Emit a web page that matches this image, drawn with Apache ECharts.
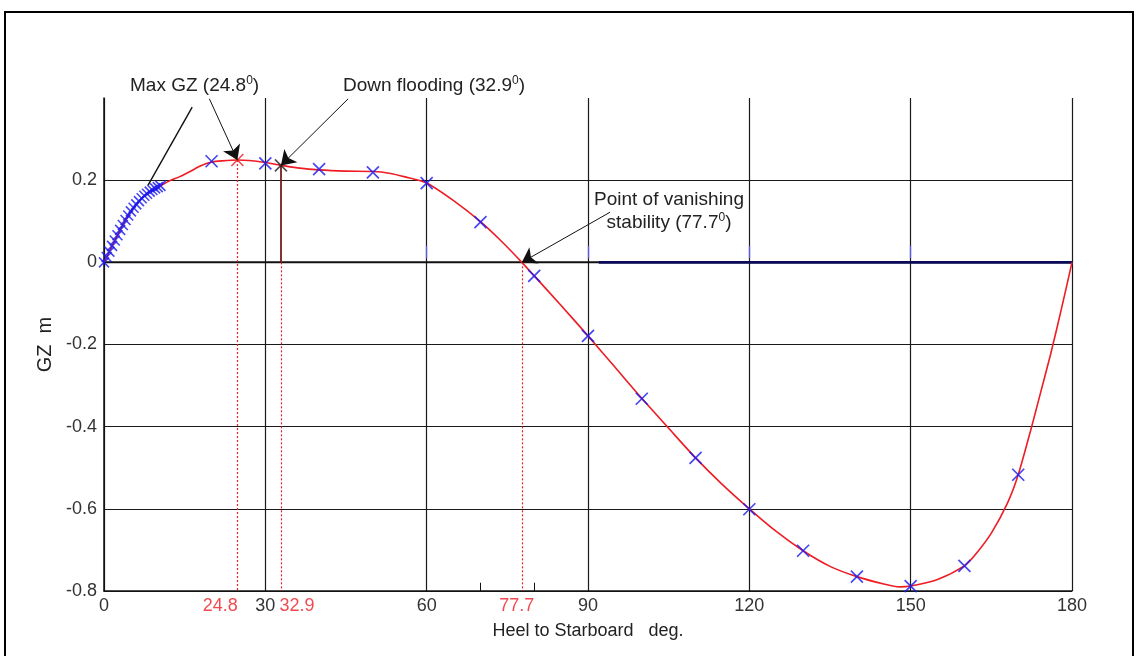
<!DOCTYPE html>
<html lang="en">
<head>
    <meta charset="utf-8">
    <title>GZ curve</title>
    <script src="https://cdn.jsdelivr.net/npm/echarts/dist/echarts.min.js"></script>
    <style>
        html, body { margin: 0; padding: 0; background: #fff; }
        .echarts_gz { width: 1139px; height: 656px; }
    </style>
</head>
<body>
    <div class="echarts_gz"></div>

<script type="text/javascript">
    // righting lever curve (heel deg / GZ m)
    let curveHeel = [0, 2, 4, 6, 8, 10.4, 12, 14, 16, 18, 20, 22, 24.8, 27, 30, 32.9, 36, 40, 45, 50, 53, 56, 60, 65, 70, 74, 77.7, 80, 85, 90, 95, 100, 105, 110, 115, 120, 125, 130, 135, 140, 145, 148, 150, 155, 160, 162, 165, 168, 170, 172.5, 174, 176, 178, 180];
    let curveGz = [0, 0.053, 0.103, 0.141, 0.167, 0.185, 0.197, 0.208, 0.221, 0.235, 0.244, 0.247, 0.249, 0.248, 0.243, 0.236, 0.230, 0.225, 0.222, 0.221, 0.217, 0.208, 0.193, 0.150, 0.099, 0.050, 0, -0.033, -0.105, -0.179, -0.255, -0.331, -0.404, -0.476, -0.541, -0.600, -0.655, -0.702, -0.740, -0.765, -0.783, -0.790, -0.788, -0.772, -0.739, -0.712, -0.659, -0.586, -0.517, -0.400, -0.325, -0.225, -0.115, 0];

    // computed points every 10 deg
    let pointHeel = [20, 30, 40, 50, 60, 70, 80, 90, 100, 110, 120, 130, 140, 150, 160, 170];
    let pointGz = [0.246, 0.241, 0.227, 0.219, 0.193, 0.098, -0.033, -0.179, -0.332, -0.476, -0.601, -0.702, -0.765, -0.788, -0.739, -0.517];

    // dense points at small angles
    let smallHeel = [0, 0.5, 1, 1.5, 2, 2.5, 3, 3.5, 4, 4.5, 5, 5.5, 6, 6.5, 7, 7.5, 8, 8.5, 9, 9.5, 10, 10.5];
    let smallGz = [0, 0.013, 0.026, 0.040, 0.053, 0.066, 0.079, 0.091, 0.103, 0.114, 0.124, 0.133, 0.141, 0.149, 0.156, 0.162, 0.167, 0.172, 0.176, 0.180, 0.183, 0.186];

    let maxGzHeel = 24.8;
    let maxGzValue = 0.249;
    let floodHeel = 32.9;
    let floodGz = 0.236;
    let vanishHeel = 77.7;
    let redTicks = [24.8, 32.9, 77.7];
    let minorTicks = [70, 80];
    let blueTicks = [60, 90, 120, 150];
    let navyFrom = 92;

    let fontFamily = '"Liberation Sans", Arial, Helvetica, sans-serif';
    let crossPath = 'path://M0,0L10,10M10,0L0,10';
    let redColor = '#ee1c24';
    let blueColor = '#1818f0';

    function zip(xs, ys){
        return xs.map((x, i) => [x, ys[i]]);
    };

    let richText = {
        a: { fontSize: 19, fill: '#222', fontFamily: fontFamily, lineHeight: 23.5 },
        s: { fontSize: 12, fill: '#222', fontFamily: fontFamily, lineHeight: 14, verticalAlign: 'top' }
    };

    // one empty series per guide style, the lines come from markLine
    function guideSeries(name, lines, lineStyle, z){
        return {
            name: name,
            type: 'line',
            data: [],
            markLine: {
                silent: true,
                z: z,
                symbol: ['none', 'none'],
                label: { show: false },
                lineStyle: lineStyle,
                data: lines
            }
        };
    };

    let redGuides = [
        [{coord: [maxGzHeel, maxGzValue]}, {coord: [maxGzHeel, -0.8]}],
        [{coord: [floodHeel, 0]}, {coord: [floodHeel, -0.8]}],
        [{coord: [vanishHeel, 0]}, {coord: [vanishHeel, -0.8]}]
    ];
    let floodGuide = [[{coord: [floodHeel, floodGz]}, {coord: [floodHeel, 0]}]];
    let minorGuides = minorTicks.map((t) => [{coord: [t, -0.8]}, {coord: [t, -0.78]}]);
    let blueGuides = blueTicks.map((t) => [{coord: [t, 0.01]}, {coord: [t, 0.04]}]);

    let Chart = echarts.init(document.getElementsByClassName('echarts_gz')[0]);

    let option = {
        animation: false,
        textStyle: { fontFamily: fontFamily },
        grid: { left: 104, right: 67, top: 98, bottom: 65, containLabel: false, outerBoundsMode: 'none' },
        xAxis: {
            type: 'value',
            min: 0,
            max: 180,
            interval: 30,
            name: 'Heel to Starboard   deg.',
            nameLocation: 'middle',
            nameGap: 31,
            nameTextStyle: { fontSize: 18, color: '#222', fontFamily: fontFamily },
            axisLine: { show: true, onZero: false, lineStyle: { color: '#111', width: 1.5 } },
            axisTick: { show: false },
            axisLabel: { fontSize: 18, color: '#333', margin: 6, fontFamily: fontFamily },
            splitLine: { show: true, lineStyle: { color: '#1a1a1a', width: 1.2 } }
        },
        yAxis: {
            type: 'value',
            min: -0.8,
            max: 0.4,
            interval: 0.2,
            name: 'GZ  m',
            nameLocation: 'middle',
            nameGap: 41,
            nameTextStyle: { fontSize: 20, color: '#222', fontFamily: fontFamily },
            axisLine: { show: true, onZero: false, lineStyle: { color: '#111', width: 1.5 } },
            axisTick: { show: false },
            axisLabel: {
                fontSize: 18, color: '#333', margin: 7, fontFamily: fontFamily,
                formatter: function(v){
                    if(v > 0.3) return '';
                    if(Math.abs(v) < 1e-9) return '0';
                    return v.toFixed(1);
                }
            },
            splitLine: { show: true, showMaxLine: false, lineStyle: { color: '#1a1a1a', width: 1.2 } }
        },
        graphic: [
            { type: 'rect', shape: { x: 5, y: 12, width: 1128, height: 700 }, style: { fill: 'none', stroke: '#000', lineWidth: 2 }, silent: true, z: -10 },
            { type: 'text', x: 130, y: 86, style: { text: '{a|Max GZ (' + maxGzHeel + '}{s|0}{a|)}', rich: richText, verticalAlign: 'middle' } },
            { type: 'text', x: 343, y: 86, style: { text: '{a|Down flooding (' + floodHeel + '}{s|0}{a|)}', rich: richText, verticalAlign: 'middle' } },
            { type: 'text', x: 669, y: 211.5, style: { text: '{a|Point of vanishing}\n{a|stability (' + vanishHeel + '}{s|0}{a|)}', rich: richText, align: 'center', verticalAlign: 'middle' } }
        ],
        series: [
            {
                name: 'zero',
                type: 'line',
                data: [[0, 0], [180, 0]],
                symbol: 'none',
                silent: true,
                lineStyle: { color: '#111', width: 2 },
                z: 1
            },
            {
                name: 'zero right',
                type: 'line',
                data: [[navyFrom, 0], [180, 0]],
                symbol: 'none',
                silent: true,
                lineStyle: { color: '#0b0b5a', width: 2.6 },
                z: 1
            },
            guideSeries('red guides', redGuides, { color: redColor, type: [2, 2], width: 1.2 }, 2),
            guideSeries('flood guide', floodGuide, { color: '#7a1c1c', type: 'solid', width: 1.8 }, 2),
            guideSeries('minor ticks', minorGuides, { color: '#111', type: 'solid', width: 1 }, 2),
            guideSeries('blue ticks', blueGuides, { color: '#5a5ae8', type: 'solid', width: 1.3 }, 2),
            {
                name: 'GZ',
                type: 'line',
                data: zip(curveHeel, curveGz),
                symbol: 'none',
                smooth: 0.25,
                lineStyle: { color: redColor, width: 1.6 },
                z: 3
            },
            {
                name: 'points',
                type: 'scatter',
                data: zip(pointHeel, pointGz),
                symbol: crossPath,
                symbolSize: 12,
                itemStyle: { color: 'rgba(0,0,0,0)', borderColor: blueColor, borderWidth: 1.7 },
                z: 4
            },
            {
                name: 'small angle points',
                type: 'scatter',
                data: zip(smallHeel, smallGz),
                symbol: crossPath,
                symbolSize: 10,
                itemStyle: { color: 'rgba(0,0,0,0)', borderColor: blueColor, borderWidth: 1.6 },
                z: 4
            },
            {
                name: 'key points',
                type: 'scatter',
                data: [
                    { value: [maxGzHeel, maxGzValue], itemStyle: { borderColor: redColor } },
                    { value: [floodHeel, floodGz], itemStyle: { borderColor: '#222' } }
                ],
                symbol: crossPath,
                symbolSize: 12,
                itemStyle: { color: 'rgba(0,0,0,0)', borderWidth: 1.6 },
                z: 4
            },
            {
                name: 'red ticks',
                type: 'scatter',
                data: [
                    { value: [redTicks[0], -0.8], label: { offset: [-17, 0] } },
                    { value: [redTicks[1], -0.8], label: { offset: [16, 0] } },
                    { value: [redTicks[2], -0.8], label: { offset: [-5, 0] } }
                ],
                symbolSize: 1,
                clip: false,
                itemStyle: { color: 'rgba(0,0,0,0)' },
                label: {
                    show: true, position: 'bottom', distance: 6,
                    color: redColor, fontSize: 18, fontFamily: fontFamily,
                    formatter: function(p){ return String(p.value[0]); }
                },
                z: 5
            },
            {
                name: 'arrows',
                type: 'line',
                data: [],
                markLine: {
                    silent: true,
                    z: 6,
                    symbol: ['none', 'arrow'],
                    symbolSize: 14,
                    label: { show: false },
                    lineStyle: { color: '#111', width: 1, type: 'solid' },
                    data: [
                        [{coord: [19.6, 0.398]}, {coord: [maxGzHeel, maxGzValue]}],
                        [{coord: [45.4, 0.398]}, {coord: [floodHeel, floodGz]}],
                        [{coord: [94.1, 0.122]}, {coord: [vanishHeel, 0]}],
                        [{coord: [16.4, 0.378], symbol: 'none', lineStyle: {width: 1.4}}, {coord: [8.2, 0.188], symbol: 'none'}]
                    ]
                }
            }
        ]
    };

    Chart.setOption(option);
</script>
</body>
</html>
